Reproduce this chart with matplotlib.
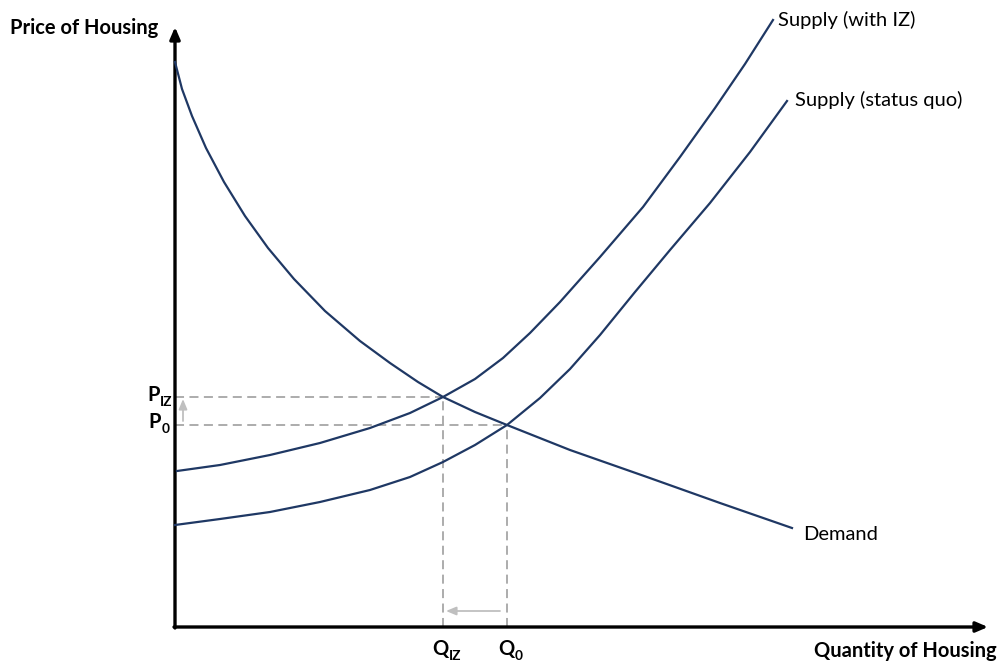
"""Supply and demand sketch: housing market with inclusionary zoning (IZ)."""

import matplotlib
matplotlib.use("Agg")
import matplotlib.pyplot as plt

plt.rcParams["font.family"] = ["Lato", "DejaVu Sans"]

# ── Data (quantity, price) ───────────────────────────────────────────────────

DEMAND_Q = [0, 7, 17, 31, 49, 70, 93, 119, 150, 185, 215, 243, 268, 300, 332, 395, 472, 545, 617]
DEMAND_P = [565, 538, 511, 479, 445, 411, 379, 348, 316, 286, 264, 245, 230, 215, 202, 177, 150, 124, 99]

SUPPLY_IZ_Q = [2, 45, 95, 145, 195, 235, 268, 300, 328, 355, 385, 425, 468, 505, 540, 570, 598]
SUPPLY_IZ_P = [156, 162, 172, 184, 199, 214, 230, 248, 269, 294, 325, 370, 420, 470, 519, 563, 607]

SUPPLY_SQ_Q = [0, 45, 95, 145, 195, 235, 268, 300, 332, 365, 395, 425, 460, 495, 535, 575, 612]
SUPPLY_SQ_P = [102, 108, 115, 125, 137, 150, 165, 182, 202, 229, 258, 292, 335, 377, 424, 475, 526]

Q_IZ, P_IZ = 268, 230
Q_0, P_0 = 332, 202

CURVE = "#1F3864"
DASH = "#A6A6A6"
ARROW = "#BFBFBF"
FS = 14.5

fig = plt.figure(figsize=(10.06, 6.66), dpi=100)
ax = fig.add_axes([0, 0, 1, 1])
ax.set_xlim(-175, 831)
ax.set_ylim(-39, 627)
ax.axis("off")

# axes with arrow heads
head = "-|>,head_length=0.7,head_width=0.3"
ax.annotate("", xy=(813, 0), xytext=(-1, 0),
            arrowprops=dict(arrowstyle=head, color="black", lw=2.4, shrinkA=0, shrinkB=0))
ax.annotate("", xy=(0, 600), xytext=(0, -1),
            arrowprops=dict(arrowstyle=head, color="black", lw=2.4, shrinkA=0, shrinkB=0))

# dashed guides
dash_kw = dict(color=DASH, lw=1.3, ls=(0, (5, 3)), zorder=1)
ax.plot([0, Q_IZ], [P_IZ, P_IZ], **dash_kw)
ax.plot([Q_IZ, Q_IZ], [0, P_IZ], **dash_kw)
ax.plot([0, Q_0], [P_0, P_0], **dash_kw)
ax.plot([Q_0, Q_0], [0, P_0], **dash_kw)

# shift arrows
small = "-|>,head_length=0.6,head_width=0.25"
ax.annotate("", xy=(8, P_IZ - 2), xytext=(8, P_0 + 4),
            arrowprops=dict(arrowstyle=small, color=ARROW, lw=1.3, shrinkA=0, shrinkB=0))
ax.annotate("", xy=(Q_IZ + 3, 16), xytext=(Q_0 - 7, 16),
            arrowprops=dict(arrowstyle=small, color=ARROW, lw=1.3, shrinkA=0, shrinkB=0))

# curves
line_kw = dict(color=CURVE, lw=1.6, zorder=3, solid_joinstyle="round")
ax.plot(DEMAND_Q, DEMAND_P, **line_kw)
ax.plot(SUPPLY_IZ_Q, SUPPLY_IZ_P, **line_kw)
ax.plot(SUPPLY_SQ_Q, SUPPLY_SQ_P, **line_kw)

# labels
ax.text(-165, 599, "Price of Housing", fontsize=FS, fontweight="bold",
        ha="left", va="center")
ax.text(822, -24, "Quantity of Housing", fontsize=FS, fontweight="bold",
        ha="right", va="center")
ax.text(603, 607, "Supply (with IZ)", fontsize=FS, ha="left", va="center")
ax.text(620, 527, "Supply (status quo)", fontsize=FS, ha="left", va="center")
ax.text(628, 92, "Demand", fontsize=FS, ha="left", va="center")


def sub_label(x, y, base, sub):
    t = ax.text(x, y, base, fontsize=FS, fontweight="bold", ha="left", va="baseline")
    ax.annotate(sub, xy=(1, 0), xycoords=t, xytext=(0.5, -2.2), textcoords="offset points",
                fontsize=FS * 0.68, fontweight="bold", ha="left", va="bottom")


sub_label(-28, 226, "P", "IZ")
sub_label(-27, 199, "P", "0")
sub_label(257, -28, "Q", "IZ")
sub_label(323, -28, "Q", "0")

fig.savefig("out.png", dpi=100)
